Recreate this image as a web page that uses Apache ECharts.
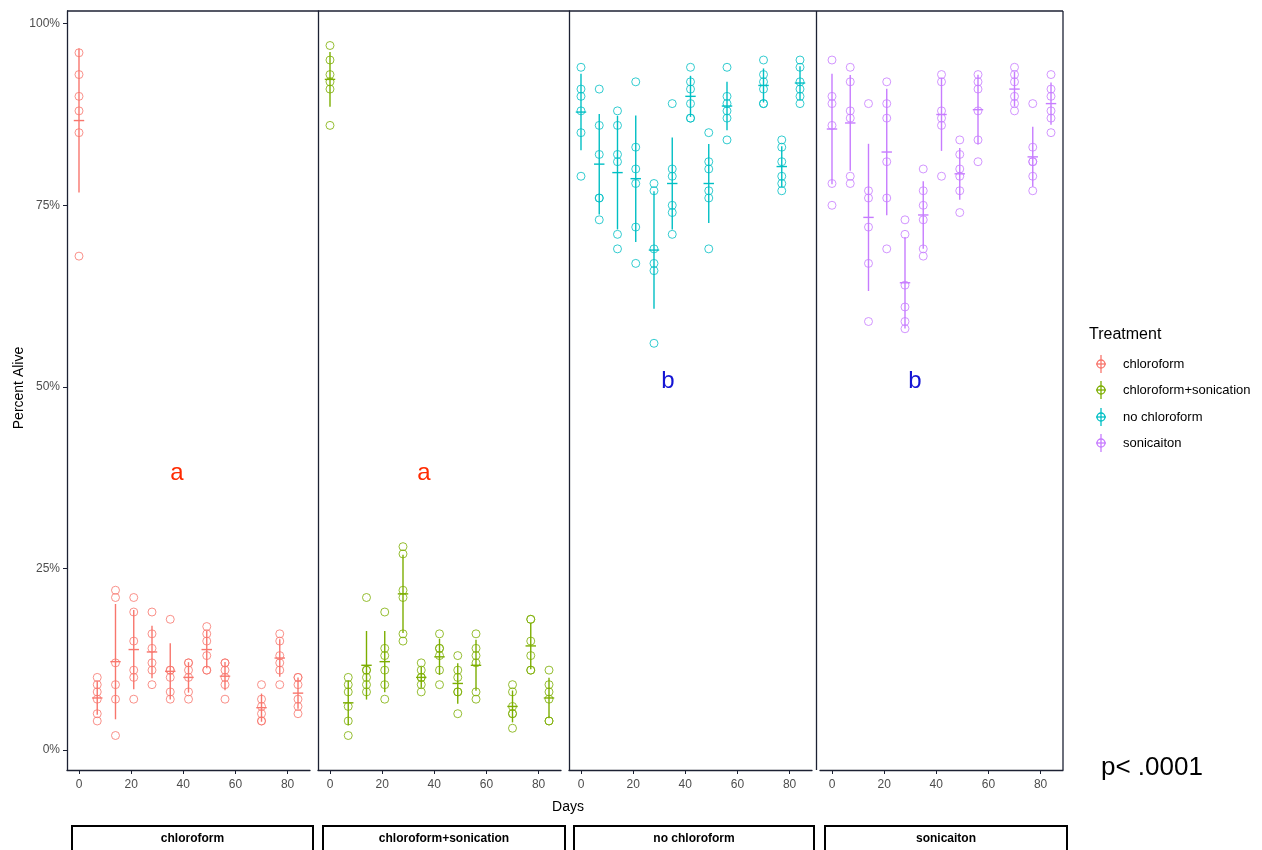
<!DOCTYPE html>
<html>
<head>
<meta charset="utf-8">
<script src="https://cdn.jsdelivr.net/npm/echarts@6/dist/echarts.min.js"></script>
<style>html,body{margin:0;padding:0;background:#fff;}#c{width:1262px;height:850px;}</style>
</head>
<body>
<div id="c"></div>
<script>
// ---- data ----
const days = [0, 7, 14, 21, 28, 35, 42, 49, 56, 70, 77, 84];
const treatments = ['chloroform', 'chloroform+sonication', 'no chloroform', 'sonicaiton'];
const colors = ['#F8766D', '#7CAE00', '#00BFC4', '#C77CFF'];
const xTicks = [0, 20, 40, 60, 80];
const yTicks = [0, 25, 50, 75, 100];

const chloroform = [
  [96, 93, 90, 88, 85, 68], [10, 9, 8, 7, 5, 4], [22, 21, 12, 9, 7, 2], [21, 19, 15, 11, 10, 7],
  [19, 16, 14, 12, 11, 9], [18, 11, 11, 10, 8, 7], [12, 12, 11, 10, 8, 7], [17, 16, 15, 13, 11, 11],
  [12, 12, 11, 10, 9, 7], [9, 7, 6, 5, 4, 4], [16, 15, 13, 12, 11, 9], [10, 10, 9, 7, 6, 5]
];
const chloroformSonication = [
  [97, 95, 93, 92, 91, 86], [10, 9, 8, 6, 4, 2], [21, 11, 11, 10, 9, 8], [19, 14, 13, 11, 9, 7],
  [28, 27, 22, 21, 16, 15], [12, 11, 10, 10, 9, 8], [16, 14, 14, 13, 11, 9], [13, 11, 10, 8, 8, 5],
  [16, 14, 13, 12, 8, 7], [9, 8, 6, 5, 5, 3], [18, 18, 15, 13, 11, 11], [11, 9, 8, 7, 4, 4]
];
const noChloroform = [
  [94, 91, 90, 88, 85, 79], [91, 86, 82, 76, 76, 73], [88, 86, 82, 81, 71, 69], [92, 83, 80, 78, 72, 67],
  [78, 77, 69, 67, 66, 56], [89, 80, 79, 75, 74, 71], [94, 92, 91, 89, 87, 87], [85, 81, 80, 77, 76, 69],
  [94, 90, 89, 88, 87, 84], [95, 93, 92, 91, 89, 89], [84, 83, 81, 79, 78, 77], [95, 94, 92, 91, 90, 89]
];
const sonicaiton = [
  [95, 90, 89, 86, 78, 75], [94, 92, 88, 87, 79, 78], [89, 77, 76, 72, 67, 59], [92, 89, 87, 81, 76, 69],
  [73, 71, 64, 61, 59, 58], [80, 77, 75, 73, 69, 68], [93, 92, 88, 87, 86, 79], [84, 82, 80, 79, 77, 74],
  [93, 92, 91, 88, 84, 81], [94, 93, 92, 90, 89, 88], [89, 83, 81, 81, 79, 77], [93, 91, 90, 88, 87, 85]
];
const panelLetters = ['a', 'a', 'b', 'b'];
const allData = [chloroform, chloroformSonication, noChloroform, sonicaiton];

// ---- layout ----
const gridLefts = [67, 318, 569, 820];
const gridW = 243, gridTop = 11, gridBottom = 80;
const axisColor = '#1c2133';
const font = 'Liberation Sans, Arial, sans-serif';

function stats(arr) {
  const n = arr.length, m = arr.reduce((a, b) => a + b, 0) / n;
  const sd = Math.sqrt(arr.reduce((a, b) => a + (b - m) * (b - m), 0) / (n - 1));
  return [m, sd];
}

const grids = [], xAxes = [], yAxes = [], series = [];
allData.forEach((set, i) => {
  grids.push({ left: gridLefts[i], top: gridTop, width: gridW, bottom: gridBottom, containLabel: false });
  xAxes.push({
    type: 'value', gridIndex: i, min: -4.6, max: 88.6,
    axisLine: { show: true, onZero: false, lineStyle: { color: axisColor, width: 1.3 } },
    axisTick: { show: true, length: 4, customValues: xTicks, lineStyle: { color: axisColor } },
    axisLabel: { customValues: xTicks, color: '#4d4d4d', fontSize: 12, fontFamily: font, margin: 9 },
    splitLine: { show: false }
  });
  yAxes.push({
    type: 'value', gridIndex: i, min: -2.75, max: 101.75,
    axisLine: { show: i !== 3, onZero: false, lineStyle: { color: axisColor, width: 1.3 } },
    axisTick: { show: i === 0, length: 4, customValues: yTicks, lineStyle: { color: axisColor } },
    axisLabel: { show: i === 0, customValues: yTicks, formatter: v => v + '%', color: '#4d4d4d', fontSize: 12, fontFamily: font, margin: 7 },
    splitLine: { show: false }
  });
  const pts = [], sums = [];
  set.forEach((vals, k) => {
    vals.forEach(v => pts.push([days[k], v]));
    const [m, sd] = stats(vals);
    sums.push([days[k], m, m - sd, m + sd]);
  });
  series.push({
    type: 'scatter', name: treatments[i], xAxisIndex: i, yAxisIndex: i, data: pts,
    symbol: 'circle', symbolSize: 8,
    itemStyle: { color: 'rgba(0,0,0,0)', borderColor: colors[i], borderWidth: 1 },
    silent: true, z: 3
  });
  series.push({
    type: 'custom', xAxisIndex: i, yAxisIndex: i, data: sums, silent: true, z: 4,
    renderItem: (params, api) => {
      const x = api.value(0), m = api.value(1), lo = api.value(2), hi = api.value(3);
      const pLo = api.coord([x, lo]), pHi = api.coord([x, hi]);
      const pL = api.coord([x - 2, m]), pR = api.coord([x + 2, m]);
      const st = { stroke: colors[i], lineWidth: 1.4 };
      return {
        type: 'group', children: [
          { type: 'line', shape: { x1: pLo[0], y1: pLo[1], x2: pHi[0], y2: pHi[1] }, style: st },
          { type: 'line', shape: { x1: pL[0], y1: pL[1], x2: pR[0], y2: pR[1] }, style: st }
        ]
      };
    }
  });
});

// ---- graphics ----
const g = [];
// top & right border, last panel divider
g.push({ type: 'line', shape: { x1: 67, y1: 11, x2: 1063, y2: 11 }, style: { stroke: axisColor, lineWidth: 1.3 } });
g.push({ type: 'line', shape: { x1: 1063, y1: 11, x2: 1063, y2: 770 }, style: { stroke: axisColor, lineWidth: 1.3 } });
g.push({ type: 'line', shape: { x1: 816.5, y1: 11, x2: 816.5, y2: 770 }, style: { stroke: axisColor, lineWidth: 1.3 } });
// titles
g.push({ type: 'text', x: 19, y: 388, rotation: Math.PI / 2, style: { text: 'Percent Alive', font: '14px ' + font, fill: '#000', align: 'center', verticalAlign: 'middle' } });
g.push({ type: 'text', x: 568, y: 807, style: { text: 'Days', font: '14px ' + font, fill: '#000', align: 'center', verticalAlign: 'middle' } });
// letters
const letterPos = [[177, 473, '#ff2a00'], [424, 473, '#ff2a00'], [668, 381, '#1414d4'], [915, 381, '#1414d4']];
panelLetters.forEach((t, i) => {
  g.push({ type: 'text', x: letterPos[i][0], y: letterPos[i][1], style: { text: t, font: '24px ' + font, fill: letterPos[i][2], align: 'center', verticalAlign: 'middle' } });
});
g.push({ type: 'text', x: 1101, y: 768, style: { text: 'p< .0001', font: '26px ' + font, fill: '#000', align: 'left', verticalAlign: 'middle' } });
// legend
g.push({ type: 'text', x: 1089, y: 335, style: { text: 'Treatment', font: '16px ' + font, fill: '#000', align: 'left', verticalAlign: 'middle' } });
const legY = [364, 390, 417, 443];
treatments.forEach((t, i) => {
  const cy = legY[i], cx = 1101, st = { stroke: colors[i], lineWidth: 1.3, fill: 'none' };
  g.push({ type: 'line', shape: { x1: cx, y1: cy - 9, x2: cx, y2: cy + 9 }, style: st });
  g.push({ type: 'line', shape: { x1: cx - 5, y1: cy, x2: cx + 5, y2: cy }, style: st });
  g.push({ type: 'circle', shape: { cx: cx, cy: cy, r: 4 }, style: st });
  g.push({ type: 'text', x: 1123, y: cy, style: { text: t, font: '13px ' + font, fill: '#000', align: 'left', verticalAlign: 'middle' } });
});
// strips at bottom
const stripX = [[72, 313], [323, 565], [574, 814], [825, 1067]];
treatments.forEach((t, i) => {
  const [a, b] = stripX[i];
  g.push({ type: 'rect', shape: { x: a, y: 826, width: b - a, height: 40 }, style: { fill: '#fff', stroke: '#000', lineWidth: 2 } });
  g.push({ type: 'text', x: (a + b) / 2, y: 839, style: { text: t, font: 'bold 12px ' + font, fill: '#000', align: 'center', verticalAlign: 'middle' } });
});

const chart = echarts.init(document.getElementById('c'), null, { renderer: 'canvas' });
chart.setOption({
  animation: false,
  backgroundColor: '#fff',
  grid: grids, xAxis: xAxes, yAxis: yAxes, series: series,
  graphic: g
});
</script>
</body>
</html>
